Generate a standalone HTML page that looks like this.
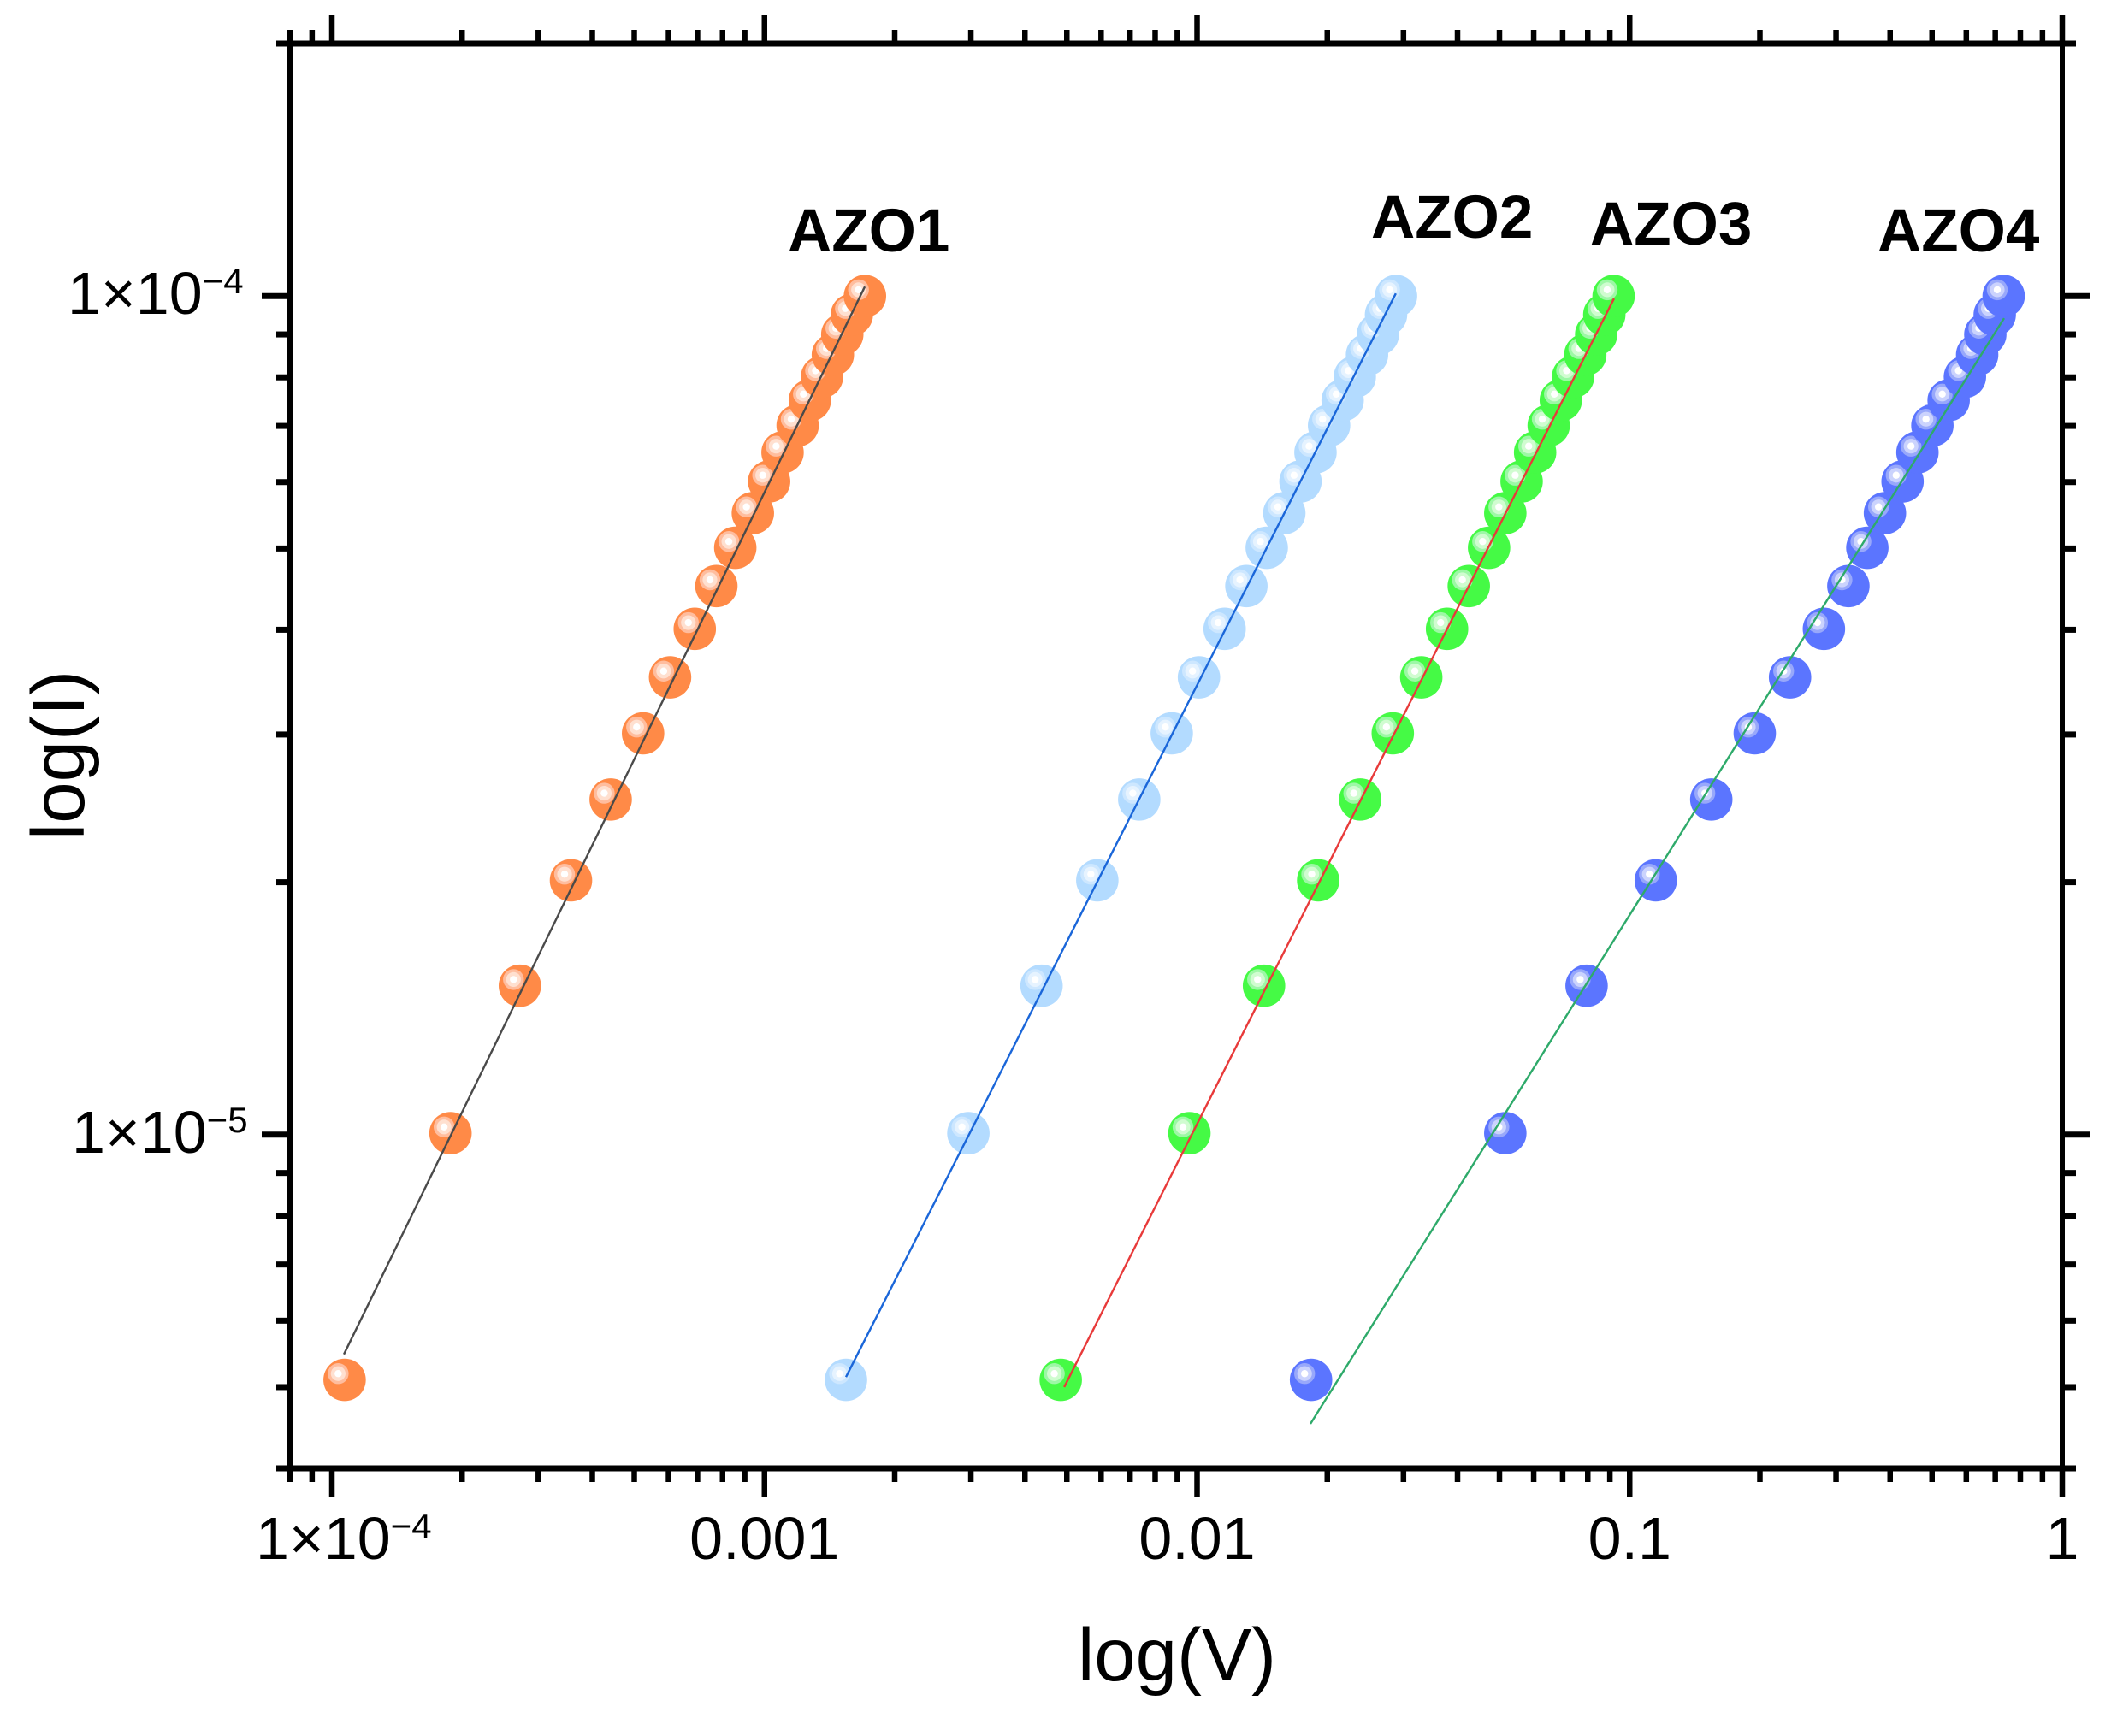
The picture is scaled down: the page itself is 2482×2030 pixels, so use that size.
<!DOCTYPE html>
<html lang="en">
<head>
<meta charset="utf-8">
<title>log(I) vs log(V) for AZO1-AZO4</title>
<style>
html,body{margin:0;padding:0;background:#fff;}
svg{display:block;font-family:"Liberation Sans",Arial,sans-serif;}
</style>
</head>
<body>
<svg id="chart" xmlns="http://www.w3.org/2000/svg" width="2482" height="2030" viewBox="0 0 2482 2030">
<rect x="0" y="0" width="2482" height="2030" fill="#ffffff"/>
<g id="series-layer"></g>
<g id="axes-layer"></g>
<text x="1376" y="1965" font-size="87" text-anchor="middle" fill="#000">log(V)</text>
<text x="0" y="0" transform="translate(98 883) rotate(-90)" font-size="87" text-anchor="middle" fill="#000">log(I)</text>
</svg>
<script>
// Shared current axis (one value per marker, all series)
const currentValues = [5.1e-6,1.004e-5,1.505e-5,2.01e-5,2.51e-5,3.01e-5,3.51e-5,4.01e-5,4.51e-5,5.01e-5,5.51e-5,6.01e-5,6.51e-5,7.01e-5,7.51e-5,8.01e-5,8.51e-5,9e-5,9.5e-5,1e-4];

// Voltage per series
const azo1Voltage = [1.07e-4,1.88e-4,2.72e-4,3.57e-4,4.41e-4,5.24e-4,6.05e-4,6.90e-4,7.74e-4,8.56e-4,9.40e-4,1.025e-3,1.101e-3,1.193e-3,1.273e-3,1.358e-3,1.439e-3,1.513e-3,1.592e-3,1.707e-3];
const azo2Voltage = [1.543e-3,2.96e-3,4.37e-3,5.88e-3,7.35e-3,8.74e-3,0.0101,0.01158,0.013,0.01449,0.01591,0.01734,0.01878,0.02019,0.0217,0.02315,0.02471,0.02618,0.02734,0.02883];
const azo3Voltage = [4.84e-3,9.6e-3,0.01428,0.01905,0.02383,0.02834,0.03298,0.03783,0.04247,0.04731,0.05158,0.05626,0.06045,0.06498,0.06931,0.07397,0.07895,0.08367,0.08737,0.0918];
const azo4Voltage = [0.01834,0.05158,0.07951,0.1149,0.1544,0.1946,0.2348,0.2812,0.3203,0.3543,0.3891,0.4274,0.4626,0.5009,0.5462,0.5956,0.6357,0.6639,0.698,0.732];

// Fit line end points [start, end]
const azo1FitV = [1.066e-4,1.706e-3];
const azo1FitI = [5.47e-6,1.026e-4];
const azo2FitV = [1.543e-3,0.0288];
const azo2FitI = [5.14e-6,1.007e-4];
const azo3FitV = [4.93e-3,0.092];
const azo3FitI = [5e-6,9.93e-5];
const azo4FitV = [0.01828,0.7337];
const azo4FitI = [4.52e-6,9.41e-5];

// Axis ticks
const xMajorTicks = [1e-4,1e-3,1e-2,1e-1,1];
const xMinorTicks = [8e-5,9e-5,2e-4,3e-4,4e-4,5e-4,6e-4,7e-4,8e-4,9e-4,2e-3,3e-3,4e-3,5e-3,6e-3,7e-3,8e-3,9e-3,2e-2,3e-2,4e-2,5e-2,6e-2,7e-2,8e-2,9e-2,0.2,0.3,0.4,0.5,0.6,0.7,0.8,0.9];
const yMajorTicks = [1e-5,1e-4];
const yMinorTicks = [4e-6,5e-6,6e-6,7e-6,8e-6,9e-6,2e-5,3e-5,4e-5,5e-5,6e-5,7e-5,8e-5,9e-5,2e-4];
const xPlainLabels = ["0.001","0.01","0.1","1"];
const xPlainLabelValues = [1e-3,1e-2,1e-1,1];

// Series labels
const seriesNames = ["AZO1","AZO2","AZO3","AZO4"];

const SVG_NS = "http://www.w3.org/2000/svg";
const xLeft = 339, xRight = 2411, yBottom = 1717, yTop = 51;
const xMinLog = Math.log10(8e-5), xMaxLog = 0;
const yMinLog = Math.log10(4e-6), yMaxLog = Math.log10(2e-4);
function xScale(v){ return xLeft + (Math.log10(v) - xMinLog) / (xMaxLog - xMinLog) * (xRight - xLeft); }
function yScale(i){ return yBottom - (Math.log10(i) - yMinLog) / (yMaxLog - yMinLog) * (yBottom - yTop); }

function make(tag, attrs, parent){
  const el = document.createElementNS(SVG_NS, tag);
  for (const k in attrs) el.setAttribute(k, attrs[k]);
  parent.appendChild(el);
  return el;
}

const axes = document.getElementById("axes-layer");
const seriesLayer = document.getElementById("series-layer");
const styles = [
  {v:azo1Voltage, fv:azo1FitV, fi:azo1FitI, c:["#FF8A47","#FFBD9E","#FFE0D0","#FFFFFF"], line:"#4A4A4A", lx:921, ly:294},
  {v:azo2Voltage, fv:azo2FitV, fi:azo2FitI, c:["#B3DBFF","#CDE7FF","#E6F3FF","#FFFFFF"], line:"#1A66D9", lx:1603, ly:278},
  {v:azo3Voltage, fv:azo3FitV, fi:azo3FitI, c:["#45FA45","#9CF8A5","#D0FCD0","#FFFFFF"], line:"#E83A3A", lx:1859, ly:286},
  {v:azo4Voltage, fv:azo4FitV, fi:azo4FitI, c:["#5B75FF","#98A8FB","#CBD3FD","#FFFFFF"], line:"#2EAA6A", lx:2195, ly:294}
];

styles.forEach(function(s, idx){
  const sname = seriesNames[idx].toLowerCase();
  const g = make("g", {}, seriesLayer);
  
  
  s.v.forEach(function(v, k){
    const cx = xScale(v), cy = yScale(currentValues[k]);
    const p = make("g", {}, g);
    
    
    make("circle", {cx:cx, cy:cy, r:24.8, fill:s.c[0]}, p);
    make("circle", {cx:cx-7.5, cy:cy-7.3, r:12.2, fill:s.c[1]}, p);
    make("circle", {cx:cx-7.5, cy:cy-7.3, r:8.6, fill:s.c[2]}, p);
    make("circle", {cx:cx-7.5, cy:cy-7.3, r:4.2, fill:s.c[3]}, p);
  });
  const ln = make("line", {x1:xScale(s.fv[0]), y1:yScale(s.fi[0]), x2:xScale(s.fv[1]), y2:yScale(s.fi[1]), stroke:s.line, "stroke-width":2.4}, g);
  
  
  const t = make("text", {x:s.lx, y:s.ly, "font-size":71, "font-weight":"bold", fill:"#000"}, seriesLayer);
  t.textContent = seriesNames[idx];
  
  
});

// Spines
const spines = [[xLeft,yTop,xLeft,yBottom,6],[xRight,yTop,xRight,yBottom,6],[xLeft,yTop,xRight,yTop,7],[xLeft,yBottom,xRight,yBottom,7]];
spines.forEach(function(d){
  const sp = make("line", {x1:d[0], y1:d[1], x2:d[2], y2:d[3], stroke:"#000", "stroke-width":d[4], "stroke-linecap":"square"}, axes);
  
  
});

// X ticks, top and bottom
function xTick(v, major){
  const x = xScale(v);
  const topEnd = major ? 18 : 35;
  const botEnd = major ? 1750 : 1733;
  const a = make("line", {x1:x, y1:yTop, x2:x, y2:topEnd, stroke:"#000", "stroke-width":6.5}, axes);
  
  
  const b = make("line", {x1:x, y1:yBottom, x2:x, y2:botEnd, stroke:"#000", "stroke-width":6.5}, axes);
  
  
}
xMajorTicks.forEach(function(v){ xTick(v, true); });
xMinorTicks.forEach(function(v){ xTick(v, false); });

// Y ticks, left and right
function yTick(i, major){
  const y = yScale(i);
  const leftEnd = major ? 306 : 323;
  const rightEnd = major ? 2444 : 2427;
  const a = make("line", {x1:xLeft, y1:y, x2:leftEnd, y2:y, stroke:"#000", "stroke-width":7}, axes);
  
  
  const b = make("line", {x1:xRight, y1:y, x2:rightEnd, y2:y, stroke:"#000", "stroke-width":7}, axes);
  
  
}
yMajorTicks.forEach(function(i){ yTick(i, true); });
yMinorTicks.forEach(function(i){ yTick(i, false); });

// Tick labels
function powerLabel(x, y, exp, name){
  const t = make("text", {x:x, y:y, "font-size":70, fill:"#000"}, axes);
  
  
  const a = make("tspan", {}, t);
  a.textContent = "1×10";
  const b = make("tspan", {"font-size":42, dy:-24}, t);
  b.textContent = "−" + exp;
}
powerLabel(xScale(1e-4) - 89, 1823, "4", "x-tick-label-1e-4");
powerLabel(79, yScale(1e-4) + 21, "4", "y-tick-label-1e-4");
powerLabel(84, yScale(1e-5) + 21, "5", "y-tick-label-1e-5");
xPlainLabels.forEach(function(txt, k){
  const t = make("text", {x:xScale(xPlainLabelValues[k]), y:1823, "font-size":70, "text-anchor":"middle", fill:"#000"}, axes);
  t.textContent = txt;
  
  
});
</script>
</body>
</html>
